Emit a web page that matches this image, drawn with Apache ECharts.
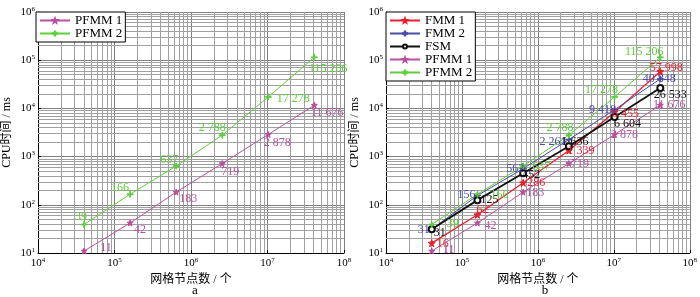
<!DOCTYPE html>
<html>
<head>
<meta charset="utf-8">
<script src="https://cdn.jsdelivr.net/npm/echarts@6/dist/echarts.min.js"></script>
<style>
  html, body { margin: 0; padding: 0; background: #fff; }
  #chart { width: 700px; height: 297px; }
</style>
</head>
<body>
<div id="chart"></div>
<script>
// grid node counts (x) shared by every series
var nodes = [40000, 160000, 640000, 2560000, 10240000, 40960000]

var pfmm1 = [11, 42, 183, 719, 2878, 11676]
var pfmm2 = [39, 166, 637, 2788, 17278, 115206]
var fmm1 = [16, 62, 286, 1339, 8455, 57998]
var fmm2 = [31, 156, 562, 2261, 9418, 40848]
var fsm = [31, 125, 452, 1636, 6604, 26533]

var xTicks = [1e4, 1e5, 1e6, 1e7, 1e8]
var yTicks = [1e1, 1e2, 1e3, 1e4, 1e5, 1e6]

// label offsets (text centre relative to the point), per point
var offA_pfmm1 = [[22, -3], [10, 7], [12, 7], [8, 8], [9, 8], [13, 8]]
var offA_pfmm2 = [[-3, -8], [-10, -6], [-7, -6], [-10, -7], [25, 2], [14, 12]]
var offB_fmm1 = [[11, 1], [5, -5], [13, 0], [12, 0], [11, 2], [6, -4]]
var offB_fmm2 = [[-8, 1], [-11, -1], [-8, 0], [-16, 2], [-12, 0], [-1, 0]]
var offB_fsm = [[8, 4], [12, 0], [8, 2], [6, -4], [13, 7], [10, 7]]
var offB_pfmm1 = [[17, -1], [13, 3], [12, 1], [11, 0], [10, 0], [9, 0]]
var offB_pfmm2 = [[21, -1], [22, 1], [18, 1], [-9, -7], [-13, -7], [-16, -5]]

var FONT = "'Liberation Serif', 'Noto Sans CJK SC', serif"
var C_PF1 = '#b8509f'
var C_PF2 = '#5ccf3a'
var C_FM1 = '#e8202e'
var C_FM2 = '#4a4aa8'
var C_FSM = '#111111'

var PLUS = 'path://M4.4,0h1.2v10h-1.2zM0,4.4h10v1.2h-10z'
var STAR = 'path://M5,0L6.2,3.4L10,3.8L7,6.2L8,10L5,7.8L2,10L3,6.2L0,3.8L3.8,3.4Z'

function fmt(v) {
    return String(v).replace(/\B(?=(\d{3})+(?!\d))/g, ' ')
}

function points(vals, offs) {
    return vals.map(function (v, i) {
        return {
            value: [nodes[i], v],
            label: { offset: offs[i] }
        }
    })
}

function makeSeries(name, idx, vals, offs, color, symbol, size, width) {
    return {
        name: name,
        type: 'line',
        xAxisIndex: idx,
        yAxisIndex: idx,
        data: points(vals, offs),
        symbol: symbol,
        symbolSize: size,
        showAllSymbol: true,
        lineStyle: { color: color, width: width },
        itemStyle: { color: color, borderColor: color, borderWidth: 1 },
        label: {
            show: true,
            position: 'inside',
            color: color,
            fontFamily: FONT,
            fontSize: 12,
            formatter: function (p) { return fmt(p.value[1]) }
        },
        z: 5
    }
}

// minor grid lines as markLines on each grid
function minorLines(idx) {
    var xs = [], ys = []
    for (var d = 4; d < 8; d++) {
        for (var m = 2; m < 10; m++) xs.push({ xAxis: m * Math.pow(10, d) })
    }
    for (var e = 1; e < 6; e++) {
        for (var k = 2; k < 10; k++) ys.push({ yAxis: k * Math.pow(10, e) })
    }
    return {
        type: 'line',
        name: 'grid' + idx,
        xAxisIndex: idx,
        yAxisIndex: idx,
        data: [],
        silent: true,
        z: 1,
        markLine: {
            silent: true,
            symbol: 'none',
            animation: false,
            label: { show: false },
            lineStyle: { color: '#a0a0a0', width: 1, type: 'solid' },
            emphasis: { disabled: true },
            data: xs.concat(ys)
        }
    }
}

function supLabel(v) {
    return '{b|10}{s|' + Math.round(Math.log10(v)) + '}'
}
var rich = {
    b: { fontFamily: FONT, fontSize: 11, color: '#000' },
    s: { fontFamily: FONT, fontSize: 7, color: '#000', padding: [0, 0, 6, 0] }
}

function xAxis(idx) {
    return {
        type: 'log',
        logBase: 10,
        gridIndex: idx,
        min: xTicks[0],
        max: xTicks[xTicks.length - 1],
        name: '网格节点数 / 个',
        nameLocation: 'middle',
        nameGap: 19,
        nameTextStyle: { fontFamily: FONT, fontSize: 12, color: '#000' },
        axisLine: { lineStyle: { color: '#000', width: 1 } },
        axisTick: { show: true, inside: true, length: 3, lineStyle: { color: '#000' } },
        axisLabel: { formatter: supLabel, rich: rich, margin: 4 },
        splitLine: { show: true, lineStyle: { color: '#808080', width: 1 } }
    }
}

function yAxis(idx) {
    return {
        type: 'log',
        logBase: 10,
        gridIndex: idx,
        min: yTicks[0],
        max: yTicks[yTicks.length - 1],
        name: 'CPU时间 / ms',
        nameLocation: 'middle',
        nameGap: 25,
        nameTextStyle: { fontFamily: FONT, fontSize: 12, color: '#000' },
        axisLine: { show: true, lineStyle: { color: '#000', width: 1 } },
        axisTick: { show: true, inside: true, length: 3, lineStyle: { color: '#000' } },
        axisLabel: { formatter: supLabel, rich: rich, margin: 3 },
        splitLine: { show: true, lineStyle: { color: '#808080', width: 1 } }
    }
}

function legend(names, left) {
    return {
        data: names,
        orient: 'vertical',
        left: left,
        top: 12,
        z: 20,
        itemWidth: 30,
        itemHeight: 5,
        itemGap: 0,
        padding: [2, 3, 2, 3],
        backgroundColor: '#fff',
        borderColor: '#000',
        borderWidth: 1,
        borderRadius: 0,
        selectedMode: false,
        textStyle: { fontFamily: FONT, fontSize: 13, color: '#000', lineHeight: 12 }
    }
}

var chart = echarts.init(document.getElementById('chart'), null, { renderer: 'canvas' })

var option = {
    animation: false,
    backgroundColor: '#fff',
    title: [
        { text: 'a', left: 190, top: 279, textAlign: 'center',
          textStyle: { fontFamily: FONT, fontSize: 13, fontWeight: 'normal', color: '#000' } },
        { text: 'b', left: 540, top: 279, textAlign: 'center',
          textStyle: { fontFamily: FONT, fontSize: 13, fontWeight: 'normal', color: '#000' } }
    ],
    grid: [
        { left: 36, top: 12, width: 308, height: 241 },
        { left: 386, top: 12, width: 307, height: 241 }
    ],
    xAxis: [xAxis(0), xAxis(1)],
    yAxis: [yAxis(0), yAxis(1)],
    legend: [
        legend(['PFMM 1', 'PFMM 2'], 36),
        legend(['FMM 1', 'FMM 2', 'FSM', 'PFMM 1', 'PFMM 2'], 386)
    ],
    series: [
        minorLines(0),
        minorLines(1),
        makeSeries('PFMM 1', 0, pfmm1, offA_pfmm1, C_PF1, STAR, 6, 1),
        makeSeries('PFMM 2', 0, pfmm2, offA_pfmm2, C_PF2, PLUS, 6, 1),
        makeSeries('FMM 1', 1, fmm1, offB_fmm1, C_FM1, STAR, 7, 1.3),
        makeSeries('FMM 2', 1, fmm2, offB_fmm2, C_FM2, PLUS, 6, 1),
        makeSeries('FSM', 1, fsm, offB_fsm, C_FSM, 'emptyCircle', 6, 1.8),
        makeSeries('PFMM 1', 1, pfmm1, offB_pfmm1, C_PF1, STAR, 6, 1),
        makeSeries('PFMM 2', 1, pfmm2, offB_pfmm2, C_PF2, PLUS, 6, 1)
    ]
}
chart.setOption(option)
</script>
</body>
</html>
